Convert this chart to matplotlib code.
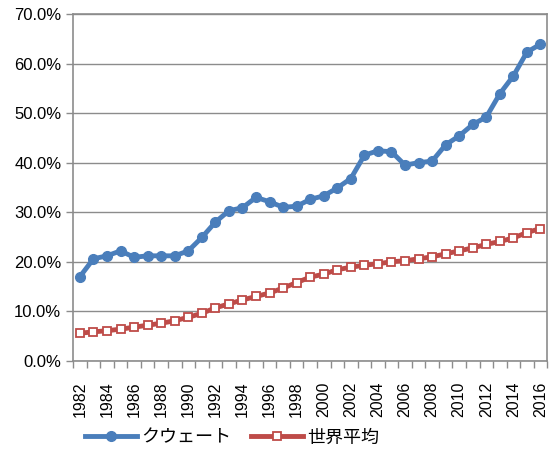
import numpy as np
import matplotlib.pyplot as plt
from matplotlib.ticker import PercentFormatter, MultipleLocator, FixedLocator

plt.rcParams['font.family'] = ['Liberation Sans', 'Noto Sans CJK JP']

years = list(range(1982, 2017))
kuwait = [17.0, 20.6, 21.2, 22.2, 20.9, 21.2, 21.2, 21.2, 22.2, 24.9,
          28.0, 30.3, 30.9, 33.0, 32.1, 31.0, 31.2, 32.6, 33.3, 34.9,
          36.8, 41.5, 42.4, 42.2, 39.5, 40.0, 40.3, 43.6, 45.4, 47.7,
          49.2, 53.9, 57.5, 62.3, 63.9]
world = [5.6, 5.85, 6.1, 6.4, 6.8, 7.2, 7.6, 8.1, 8.8, 9.6,
         10.7, 11.5, 12.3, 13.0, 13.7, 14.7, 15.8, 16.9, 17.5, 18.4,
         18.9, 19.3, 19.6, 20.0, 20.2, 20.6, 21.0, 21.6, 22.2, 22.8,
         23.5, 24.1, 24.8, 25.9, 26.7]
labels = ['クウェート', '世界平均']

fig = plt.figure(figsize=(5.5, 4.5), dpi=100)
ax = fig.add_axes([0.133, 0.198, 0.862, 0.771])

x = np.arange(len(years))
ax.plot(x, kuwait, color='#4A7EBB', lw=3.5, marker='o', ms=7,
        label=labels[0], zorder=3)
ax.plot(x, world, color='#BE4B48', lw=3.5, marker='s', ms=5.5,
        mfc='white', mec='#BE4B48', mew=1.3, label=labels[1], zorder=3)

ax.set_xlim(-0.5, len(years) - 0.5)
ax.set_ylim(0, 70)
ax.yaxis.set_major_locator(MultipleLocator(10))
ax.yaxis.set_major_formatter(PercentFormatter(decimals=1))
ax.grid(axis='y', color='#8c8c8c', lw=1)
ax.set_axisbelow(True)

# labels every other year, tick marks on the category boundaries
ax.set_xticks(x[::2])
ax.set_xticklabels([str(y) for y in years[::2]], rotation=90)
ax.xaxis.set_minor_locator(FixedLocator(np.arange(-0.5, len(years))))
ax.tick_params(axis='x', which='major', length=0, labelsize=11.5, pad=15)
ax.tick_params(axis='x', which='minor', length=5, color='#8c8c8c', width=1)
ax.tick_params(axis='y', length=5, color='#8c8c8c', width=1, labelsize=12)

for s in ax.spines.values():
    s.set_color('#8c8c8c')
    s.set_linewidth(1.2)

fig.legend(loc='center left', bbox_to_anchor=(85 / 550, 1 - 438 / 450),
           ncol=2, frameon=False, fontsize=13, handlelength=2.9,
           columnspacing=1.1, handletextpad=0.2, borderpad=0,
           borderaxespad=0)

fig.savefig('out.png', dpi=100)
